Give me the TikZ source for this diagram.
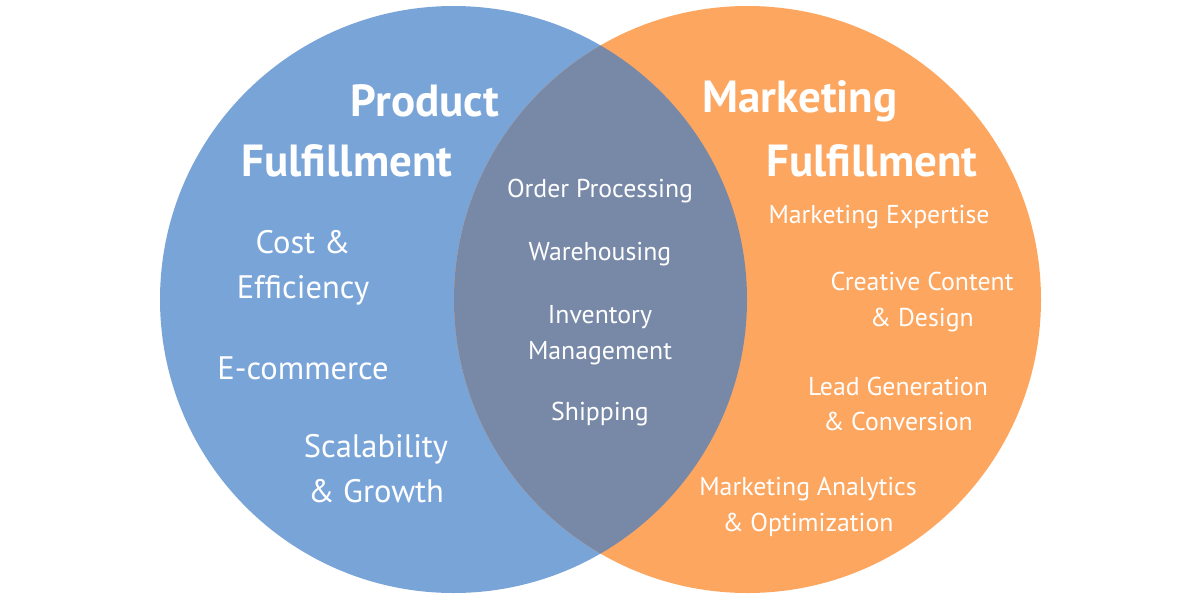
\documentclass[tikz,border=0pt]{standalone}
\usepackage{fontspec}
\setmainfont{PT Sans}
\definecolor{cblue}{HTML}{79A4D8}
\definecolor{corange}{HTML}{FDA65F}
\definecolor{clens}{HTML}{7889A8}
\tikzset{
  title/.style={text=white, font=\bfseries\fontsize{45}{54}\selectfont, inner sep=0pt},
  big/.style={text=white, align=center, font=\fontsize{32.5}{45}\selectfont, inner sep=0pt},
  item/.style={text=white, align=center, font=\fontsize{25.8}{35.5}\selectfont, inner sep=0pt},
}
\begin{document}
\begin{tikzpicture}[x=1pt,y=-1pt]
\useasboundingbox (0,0) rectangle (1200,600);
\fill[cblue] (453.5,299.5) circle (293.5);
\fill[corange] (747.5,299.5) circle (293.5);
\begin{scope}
\clip (453.5,299.5) circle (293.5);
\fill[clens] (747.5,299.5) circle (293.5);
\end{scope}
% titles
\node[title] (pt1) at (425,101) {Product};
\node[title] (pt2) at (347,161) {Fulfillment};
\node[title] (mt1) at (800,101) {Marketing};
\node[title] (mt2) at (872,161) {Fulfillment};
% left
\node[big] (l1) at (303,268) {Cost \&\\Efficiency};
\node[big] (l2) at (303,368) {E-commerce};
\node[big] (l3) at (376,469) {Scalability\\\& Growth};
% middle
\node[item] (m1) at (600,191) {Order Processing};
\node[item] (m2) at (600,254) {Warehousing};
\node[item] (m3) at (600,335) {Inventory\\Management};
\node[item] (m4) at (600,414) {Shipping};
% right
\node[item] (r1) at (879,217) {Marketing Expertise};
\node[item] (r2) at (922,302) {Creative Content\\\& Design};
\node[item] (r3) at (898,404) {Lead Generation\\\& Conversion};
\node[item] (r4) at (808,507) {Marketing Analytics\\\& Optimization};
\end{tikzpicture}
\end{document}
